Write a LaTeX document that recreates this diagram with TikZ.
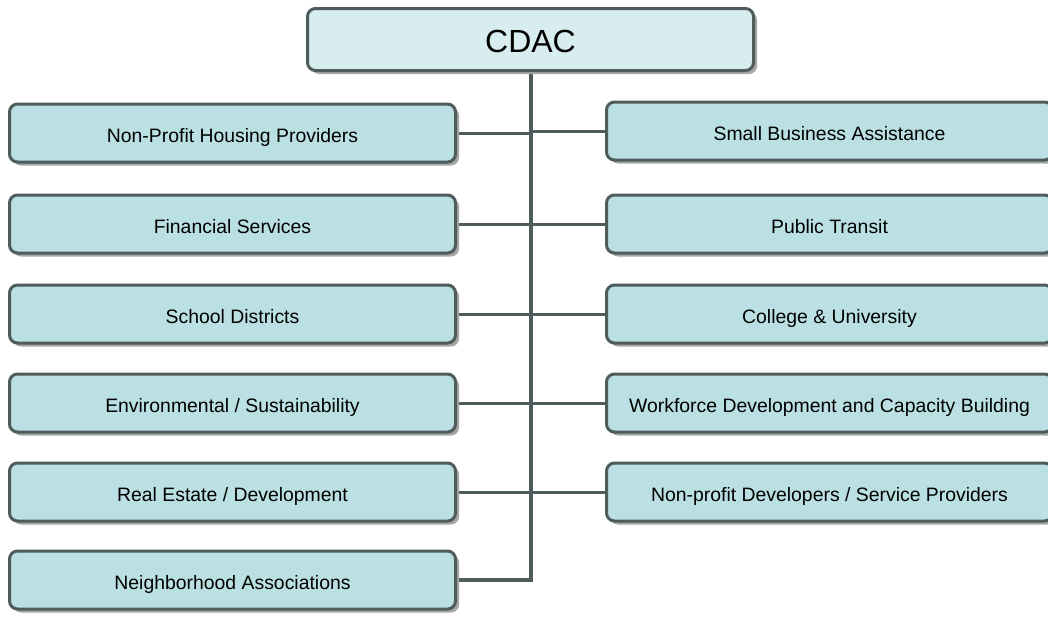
\documentclass[tikz,border=0pt]{standalone}
\usepackage{fontspec}
\setmainfont{Liberation Sans}
\usetikzlibrary{shadows,backgrounds}

\definecolor{edgegray}{HTML}{4E5C5C}
\definecolor{boxfill}{HTML}{BAE0E3}
\definecolor{topfill}{HTML}{D8EDEF}
\definecolor{shadowgray}{HTML}{A6A6A6}

\tikzset{
  unit/.style={rectangle, rounded corners=8pt, draw=edgegray, line width=3pt,
    fill=boxfill, minimum width=446pt, minimum height=58pt, inner sep=0pt,
    text height=19pt, text depth=0pt,
    font=\fontsize{19.4}{22}\selectfont, text=black,
    drop shadow={shadow xshift=3.5pt, shadow yshift=-3.5pt, fill=shadowgray, opacity=1}},
  headbox/.style={unit, fill=topfill, minimum height=62pt,
    text height=25pt, text depth=0pt,
    font=\fontsize{32}{36}\selectfont},
  trunk/.style={draw=edgegray, line width=4pt},
  branch/.style={draw=edgegray, line width=3pt}
}

\begin{document}
\begin{tikzpicture}[x=1pt, y=-1pt]
\useasboundingbox (0,0) rectangle (1048,616);

\node[headbox] (cdac) at (530.5,39.5) {CDAC};

% left column
\node[unit] (l1) at (232.5,133) {Non-Profit Housing Providers};
\node[unit] (l2) at (232.5,224) {Financial Services};
\node[unit] (l3) at (232.5,314) {School Districts};
\node[unit] (l4) at (232.5,403) {Environmental / Sustainability};
\node[unit] (l5) at (232.5,492) {Real Estate / Development};
\node[unit] (l6) at (232.5,580) {Neighborhood Associations};

% right column
\node[unit] (r1) at (829.5,131) {Small Business Assistance};
\node[unit] (r2) at (829.5,224) {Public Transit};
\node[unit] (r3) at (829.5,314) {College \& University};
\node[unit] (r4) at (829.5,403) {Workforce Development and Capacity Building};
\node[unit] (r5) at (829.5,492) {Non-profit Developers / Service Providers};

\begin{scope}[on background layer]
  \draw[trunk] (cdac.south) -- (cdac.south |- l6.east) -- (l6.east);
  \foreach \n in {l1,l2,l3,l4,l5}
    \draw[branch] (\n.east) -- (cdac.south |- \n.east);
  \foreach \n in {r1,r2,r3,r4,r5}
    \draw[branch] (cdac.south |- \n.west) -- (\n.west);
\end{scope}
\end{tikzpicture}
\end{document}
